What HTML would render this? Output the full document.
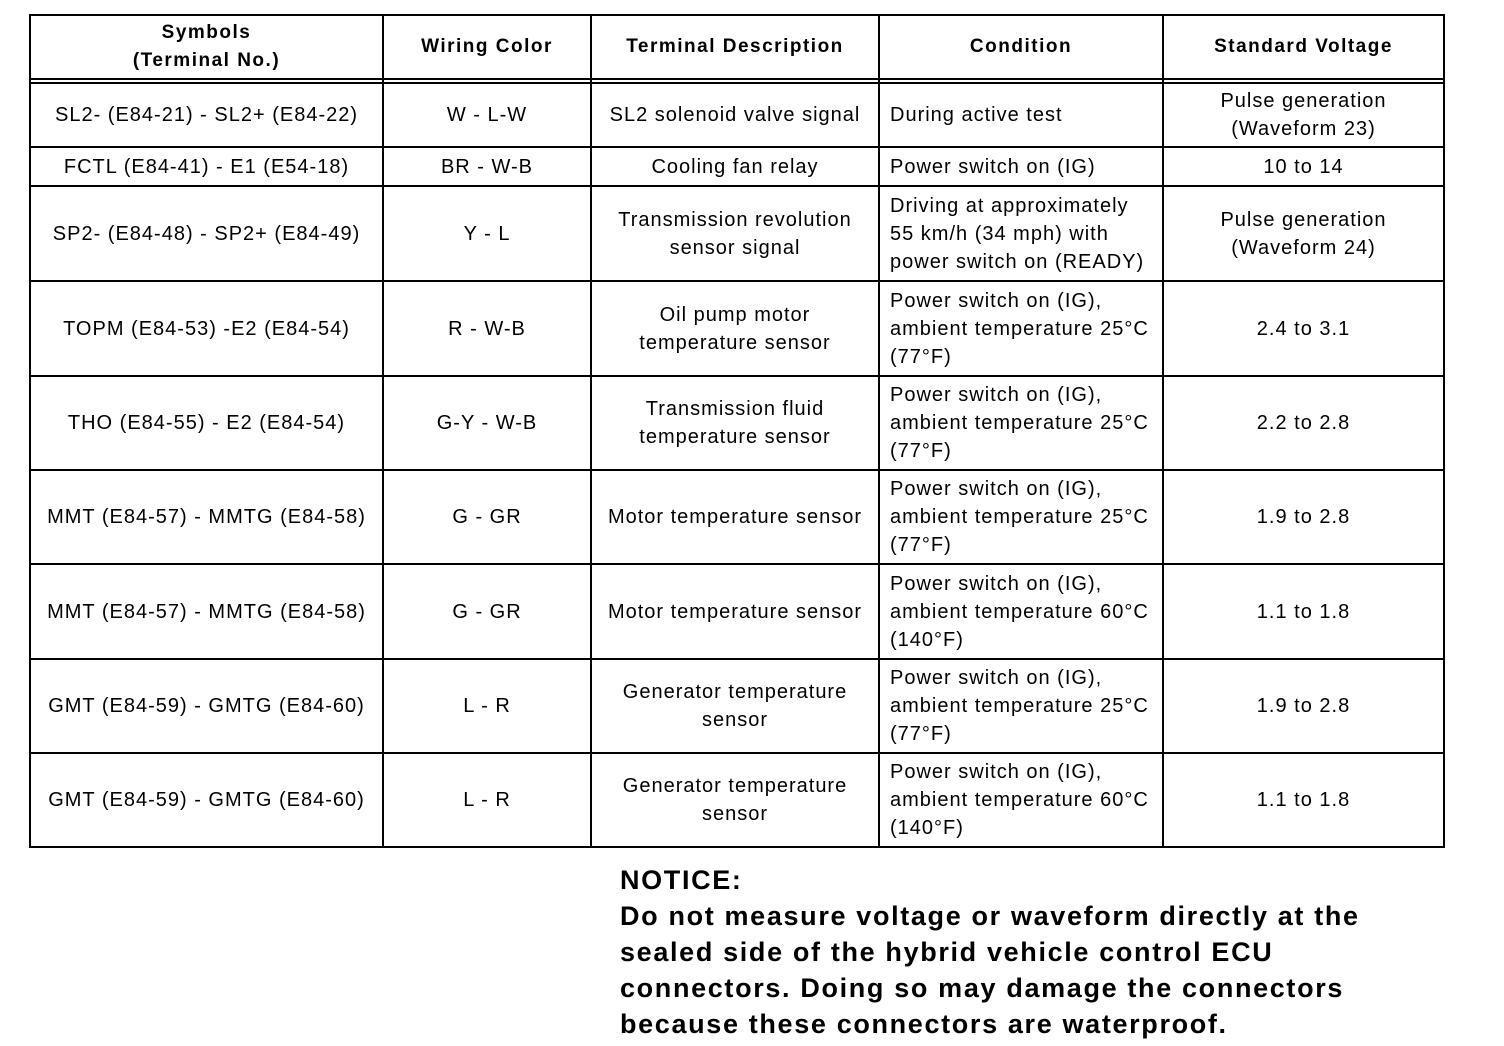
<!DOCTYPE html>
<html><head><meta charset="utf-8"><style>
body{margin:0;width:1504px;height:1046px;background:#fff;position:relative;font-family:"Liberation Sans",Arial,sans-serif;color:#000;overflow:hidden}
.c{position:absolute;display:flex;align-items:center;justify-content:center;text-align:center;font-size:20px;line-height:28px;letter-spacing:1px;white-space:nowrap}
.l{justify-content:flex-start;text-align:left;padding-left:11px;box-sizing:border-box}
.h{font-weight:bold;font-size:19px;line-height:28px;letter-spacing:1.5px}
.n{position:absolute;left:620px;top:862px;font-weight:bold;font-size:27px;line-height:36px;letter-spacing:1.65px;white-space:nowrap}
</style></head><body>
<svg width="1504" height="1046" style="position:absolute;left:0;top:0">
<g stroke="#000" stroke-width="2" fill="none">
<rect x="30" y="15" width="1414" height="832"/>
<line x1="30" y1="79" x2="1444" y2="79"/>
<line x1="30" y1="83" x2="1444" y2="83"/>
<line x1="30" y1="147" x2="1444" y2="147"/>
<line x1="30" y1="186" x2="1444" y2="186"/>
<line x1="30" y1="281" x2="1444" y2="281"/>
<line x1="30" y1="376" x2="1444" y2="376"/>
<line x1="30" y1="470" x2="1444" y2="470"/>
<line x1="30" y1="564" x2="1444" y2="564"/>
<line x1="30" y1="659" x2="1444" y2="659"/>
<line x1="30" y1="753" x2="1444" y2="753"/>
<line x1="383" y1="15" x2="383" y2="847"/>
<line x1="591" y1="15" x2="591" y2="847"/>
<line x1="879" y1="15" x2="879" y2="847"/>
<line x1="1163" y1="15" x2="1163" y2="847"/>
</g></svg>
<div class="c h" style="left:30px;top:15px;width:353px;height:64px">Symbols<br>(Terminal No.)</div>
<div class="c h" style="left:383px;top:15px;width:208px;height:64px">Wiring Color</div>
<div class="c h" style="left:591px;top:15px;width:288px;height:64px">Terminal Description</div>
<div class="c h" style="left:879px;top:15px;width:284px;height:64px">Condition</div>
<div class="c h" style="left:1163px;top:15px;width:281px;height:64px">Standard Voltage</div>

<div class="c" style="left:30px;top:83px;width:353px;height:64px">SL2- (E84-21) - SL2+ (E84-22)</div>
<div class="c" style="left:383px;top:83px;width:208px;height:64px">W - L-W</div>
<div class="c" style="left:591px;top:83px;width:288px;height:64px">SL2 solenoid valve signal</div>
<div class="c l" style="left:879px;top:83px;width:284px;height:64px">During active test</div>
<div class="c" style="left:1163px;top:83px;width:281px;height:64px">Pulse generation<br>(Waveform 23)</div>

<div class="c" style="left:30px;top:147px;width:353px;height:39px">FCTL (E84-41) - E1 (E54-18)</div>
<div class="c" style="left:383px;top:147px;width:208px;height:39px">BR - W-B</div>
<div class="c" style="left:591px;top:147px;width:288px;height:39px">Cooling fan relay</div>
<div class="c l" style="left:879px;top:147px;width:284px;height:39px">Power switch on (IG)</div>
<div class="c" style="left:1163px;top:147px;width:281px;height:39px">10 to 14</div>

<div class="c" style="left:30px;top:186px;width:353px;height:95px">SP2- (E84-48) - SP2+ (E84-49)</div>
<div class="c" style="left:383px;top:186px;width:208px;height:95px">Y - L</div>
<div class="c" style="left:591px;top:186px;width:288px;height:95px">Transmission revolution<br>sensor signal</div>
<div class="c l" style="left:879px;top:186px;width:284px;height:95px">Driving at approximately<br>55 km/h (34 mph) with<br>power switch on (READY)</div>
<div class="c" style="left:1163px;top:186px;width:281px;height:95px">Pulse generation<br>(Waveform 24)</div>

<div class="c" style="left:30px;top:281px;width:353px;height:95px">TOPM (E84-53) -E2 (E84-54)</div>
<div class="c" style="left:383px;top:281px;width:208px;height:95px">R - W-B</div>
<div class="c" style="left:591px;top:281px;width:288px;height:95px">Oil pump motor<br>temperature sensor</div>
<div class="c l" style="left:879px;top:281px;width:284px;height:95px">Power switch on (IG),<br>ambient temperature 25°C<br>(77°F)</div>
<div class="c" style="left:1163px;top:281px;width:281px;height:95px">2.4 to 3.1</div>

<div class="c" style="left:30px;top:376px;width:353px;height:94px">THO (E84-55) - E2 (E84-54)</div>
<div class="c" style="left:383px;top:376px;width:208px;height:94px">G-Y - W-B</div>
<div class="c" style="left:591px;top:376px;width:288px;height:94px">Transmission fluid<br>temperature sensor</div>
<div class="c l" style="left:879px;top:376px;width:284px;height:94px">Power switch on (IG),<br>ambient temperature 25°C<br>(77°F)</div>
<div class="c" style="left:1163px;top:376px;width:281px;height:94px">2.2 to 2.8</div>

<div class="c" style="left:30px;top:470px;width:353px;height:94px">MMT (E84-57) - MMTG (E84-58)</div>
<div class="c" style="left:383px;top:470px;width:208px;height:94px">G - GR</div>
<div class="c" style="left:591px;top:470px;width:288px;height:94px">Motor temperature sensor</div>
<div class="c l" style="left:879px;top:470px;width:284px;height:94px">Power switch on (IG),<br>ambient temperature 25°C<br>(77°F)</div>
<div class="c" style="left:1163px;top:470px;width:281px;height:94px">1.9 to 2.8</div>

<div class="c" style="left:30px;top:564px;width:353px;height:95px">MMT (E84-57) - MMTG (E84-58)</div>
<div class="c" style="left:383px;top:564px;width:208px;height:95px">G - GR</div>
<div class="c" style="left:591px;top:564px;width:288px;height:95px">Motor temperature sensor</div>
<div class="c l" style="left:879px;top:564px;width:284px;height:95px">Power switch on (IG),<br>ambient temperature 60°C<br>(140°F)</div>
<div class="c" style="left:1163px;top:564px;width:281px;height:95px">1.1 to 1.8</div>

<div class="c" style="left:30px;top:659px;width:353px;height:94px">GMT (E84-59) - GMTG (E84-60)</div>
<div class="c" style="left:383px;top:659px;width:208px;height:94px">L - R</div>
<div class="c" style="left:591px;top:659px;width:288px;height:94px">Generator temperature<br>sensor</div>
<div class="c l" style="left:879px;top:659px;width:284px;height:94px">Power switch on (IG),<br>ambient temperature 25°C<br>(77°F)</div>
<div class="c" style="left:1163px;top:659px;width:281px;height:94px">1.9 to 2.8</div>

<div class="c" style="left:30px;top:753px;width:353px;height:94px">GMT (E84-59) - GMTG (E84-60)</div>
<div class="c" style="left:383px;top:753px;width:208px;height:94px">L - R</div>
<div class="c" style="left:591px;top:753px;width:288px;height:94px">Generator temperature<br>sensor</div>
<div class="c l" style="left:879px;top:753px;width:284px;height:94px">Power switch on (IG),<br>ambient temperature 60°C<br>(140°F)</div>
<div class="c" style="left:1163px;top:753px;width:281px;height:94px">1.1 to 1.8</div>

<div class="n">NOTICE:<br>Do not measure voltage or waveform directly at the<br>sealed side of the hybrid vehicle control ECU<br>connectors. Doing so may damage the connectors<br>because these connectors are waterproof.</div>
</body></html>
